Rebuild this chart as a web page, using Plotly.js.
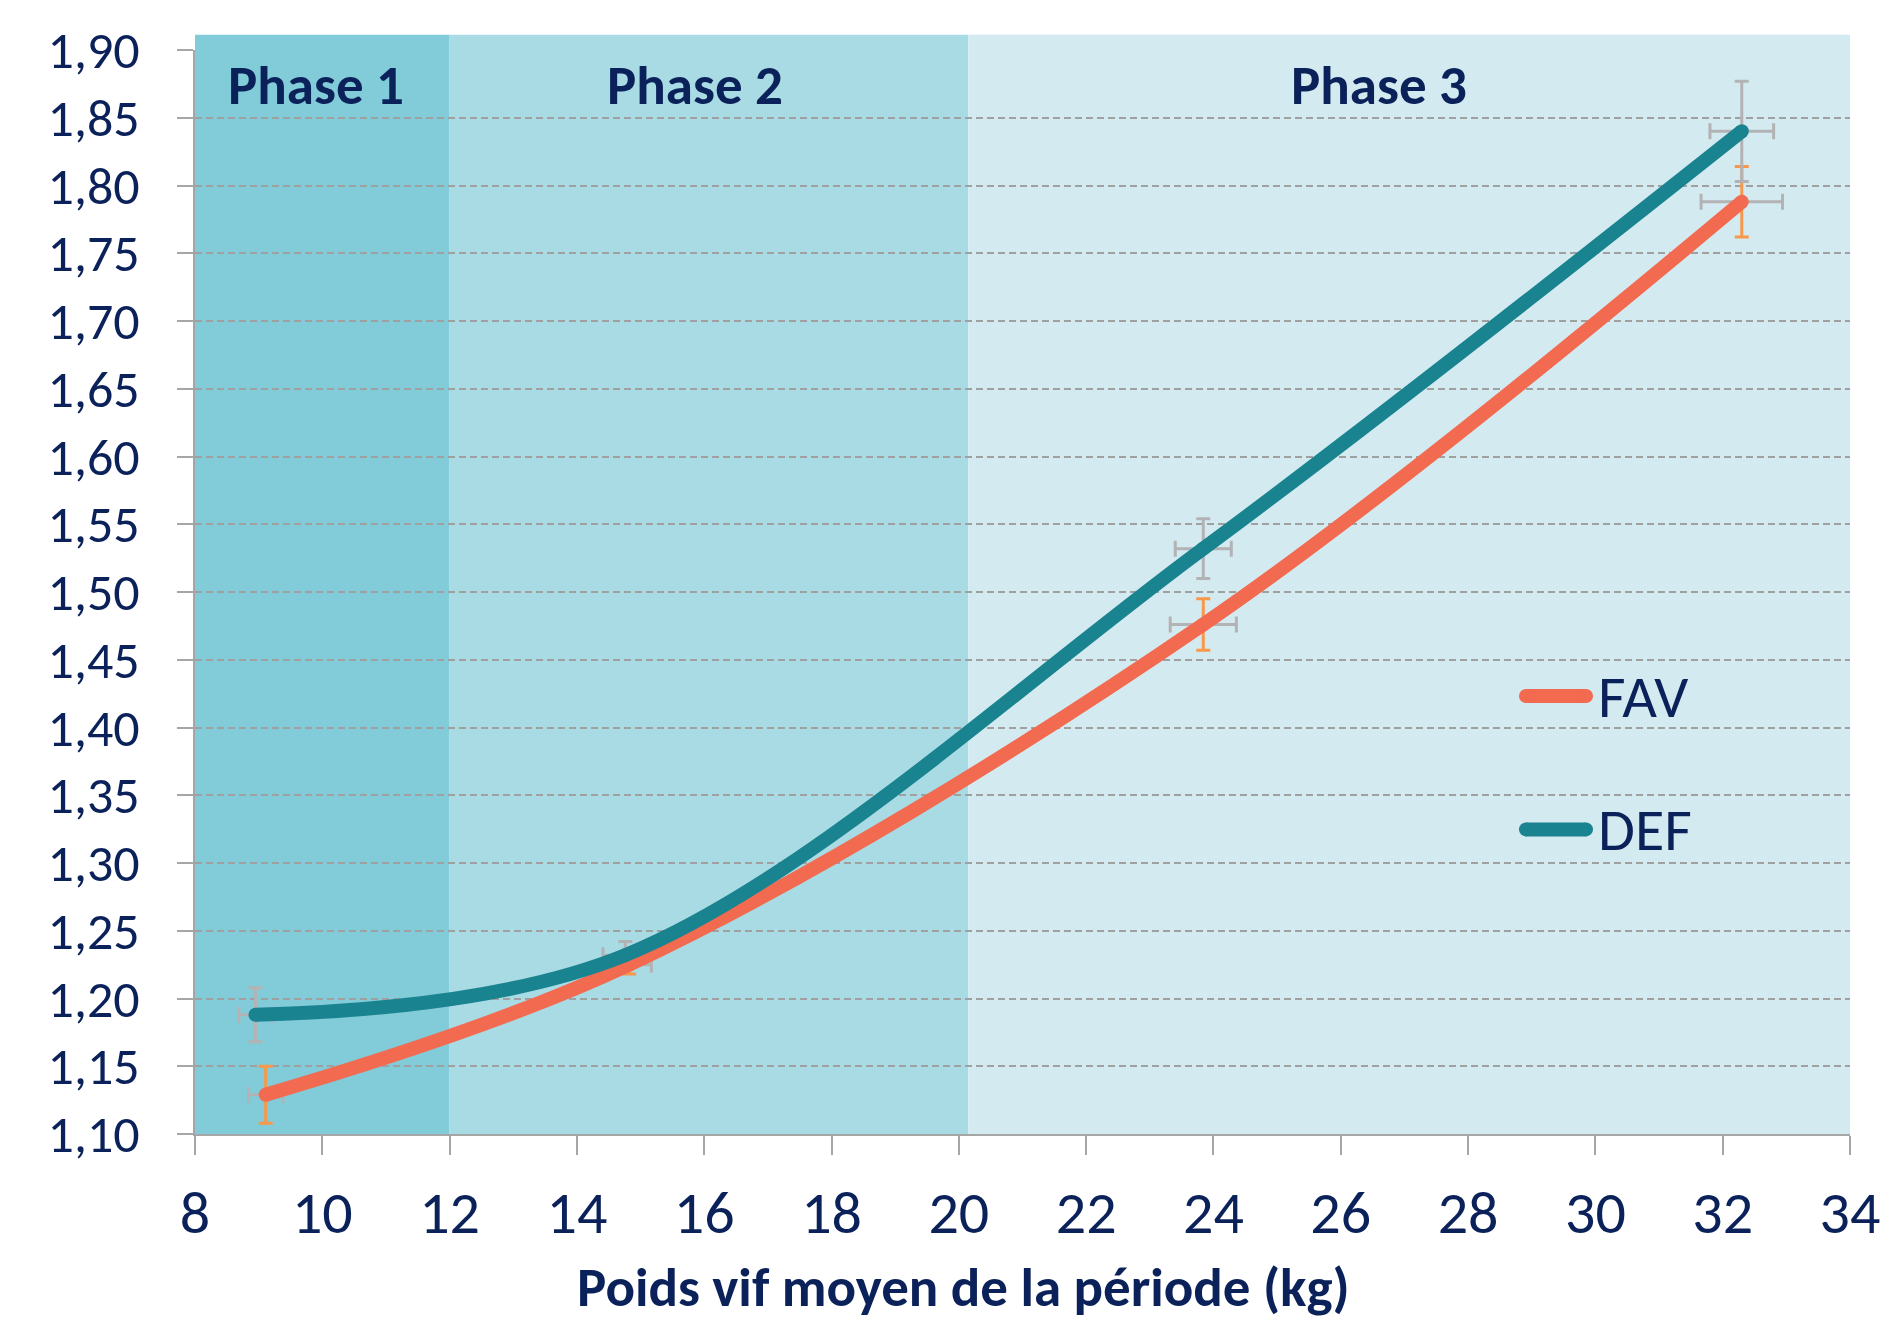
<!DOCTYPE html>
<html>
<head>
<meta charset="utf-8">
<script src="https://cdn.plot.ly/plotly-3.0.1.min.js"></script>
<style>html,body{margin:0;padding:0;background:#fff;}#chart{width:1896px;height:1325px;}</style>
</head>
<body>
<div id="chart"></div>
<script>
// ---- Data ----
const seriesNames = ["FAV", "DEF"];
const favX = [9.11, 14.82, 23.84, 32.30];
const favY = [1.129, 1.225, 1.476, 1.788];
const favYErr = [0.021, 0.007, 0.019, 0.026];
const favXErr = [0.27, 0.35, 0.52, 0.64];
const defX = [8.95, 14.76, 23.84, 32.30];
const defY = [1.188, 1.232, 1.532, 1.840];
const defYErr = [0.020, 0.010, 0.022, 0.037];
const defXErr = [0.26, 0.35, 0.44, 0.50];
const phaseLabels = ["Phase 1", "Phase 2", "Phase 3"];
const phaseStart = [8, 12, 20.15];
const phaseEnd = [12, 20.15, 34];
const phaseLabelX = [9.9, 15.85, 26.6];
const xAxisTitle = "Poids vif moyen de la période (kg)";

// ---- Styles ----
const FONT = "Carlito, Lato, 'Liberation Sans', sans-serif";
const TXT = "#0B2159";
const favColor = "#F26A50";
const defColor = "#1A8390";
const errOrange = "#F7984A";
const errGray = "#B3B3B5";
const phaseColors = ["#82CBD8", "#A9DBE5", "#D3EBF0"];
const LW = 14;

const traces = [
  // error bars (drawn beneath the lines)
  {x: favX, y: favY, type: "scatter", mode: "markers", hoverinfo: "skip", showlegend: false,
   marker: {size: 1, color: "rgba(0,0,0,0)"},
   error_y: {type: "data", array: favYErr, visible: true, color: errOrange, thickness: 3, width: 7},
   error_x: {type: "data", array: favXErr, visible: true, color: errGray, thickness: 3, width: 8}},
  {x: defX, y: defY, type: "scatter", mode: "markers", hoverinfo: "skip", showlegend: false,
   marker: {size: 1, color: "rgba(0,0,0,0)"},
   error_y: {type: "data", array: defYErr, visible: true, color: errGray, thickness: 3, width: 7},
   error_x: {type: "data", array: defXErr, visible: true, color: errGray, thickness: 3, width: 8}},
  // lines
  {x: favX, y: favY, name: seriesNames[0], type: "scatter", mode: "lines+markers",
   line: {color: favColor, width: LW, shape: "spline", smoothing: 1},
   marker: {color: favColor, size: LW}, showlegend: false},
  {x: defX, y: defY, name: seriesNames[1], type: "scatter", mode: "lines+markers",
   line: {color: defColor, width: LW, shape: "spline", smoothing: 1},
   marker: {color: defColor, size: LW}, showlegend: false}
];

const shapes = [];
const annotations = [];
for (let i = 0; i < phaseLabels.length; i++) {
  shapes.push({type: "rect", layer: "below", xref: "x", yref: "paper",
    x0: phaseStart[i], x1: phaseEnd[i], y0: 0, y1: 1.014,
    fillcolor: phaseColors[i], line: {width: 0}});
  annotations.push({x: phaseLabelX[i], y: 1.874, xref: "x", yref: "y", text: phaseLabels[i],
    showarrow: false, xanchor: "center", yanchor: "middle",
    font: {family: FONT, size: 55, color: TXT, weight: "bold"}});
}
// legend drawn by hand (long line samples with round ends, as in the reference)
const legY = [0.404, 0.281];
const legColors = [favColor, defColor];
const legX0 = 0.8042, legX1 = 0.8405;
const R = LW / 2;
for (let i = 0; i < 2; i++) {
  shapes.push({type: "line", layer: "above", xref: "paper", yref: "paper",
    x0: legX0, x1: legX1, y0: legY[i], y1: legY[i],
    line: {color: legColors[i], width: LW}});
  [legX0, legX1].forEach(function (xa) {
    shapes.push({type: "circle", layer: "above", xref: "paper", yref: "paper",
      xsizemode: "pixel", ysizemode: "pixel", xanchor: xa, yanchor: legY[i],
      x0: -R, x1: R, y0: -R, y1: R, fillcolor: legColors[i], line: {width: 0}});
  });
  annotations.push({x: 0.8465, y: legY[i], xref: "paper", yref: "paper", text: seriesNames[i],
    showarrow: false, xanchor: "left", yanchor: "middle",
    font: {family: FONT, size: 60, color: TXT}});
}
// x-axis title
annotations.push({x: 0.4645, y: -0.1415, xref: "paper", yref: "paper", text: xAxisTitle,
  showarrow: false, xanchor: "center", yanchor: "middle",
  font: {family: FONT, size: 55, color: TXT, weight: "bold"}});

const layout = {
  width: 1896, height: 1325,
  margin: {l: 195, r: 46, t: 50, b: 191, pad: 0},
  paper_bgcolor: "#ffffff", plot_bgcolor: "rgba(0,0,0,0)",
  separators: ", ",
  font: {family: FONT, color: TXT},
  showlegend: false,
  xaxis: {
    range: [8, 34], tick0: 8, dtick: 2, showgrid: false, zeroline: false,
    showline: true, linecolor: "#A6A6A6", linewidth: 2,
    ticks: "outside", ticklen: 19, tickwidth: 2, tickcolor: "#A6A6A6",
    ticklabelstandoff: 6,
    tickfont: {family: FONT, size: 60, color: TXT}
  },
  yaxis: {
    range: [1.10, 1.90], tick0: 1.10, dtick: 0.05, tickformat: ".2f",
    showgrid: true, gridcolor: "#A0A0A0", gridwidth: 2, griddash: "7px,4px",
    zeroline: false,
    showline: true, linecolor: "#A6A6A6", linewidth: 2,
    ticks: "outside", ticklen: 16, tickwidth: 2, tickcolor: "#A6A6A6",
    ticklabelstandoff: 27,
    tickfont: {family: FONT, size: 52, color: TXT}
  },
  shapes: shapes,
  annotations: annotations
};

Plotly.newPlot("chart", traces, layout, {staticPlot: true, displayModeBar: false});
</script>
</body>
</html>
